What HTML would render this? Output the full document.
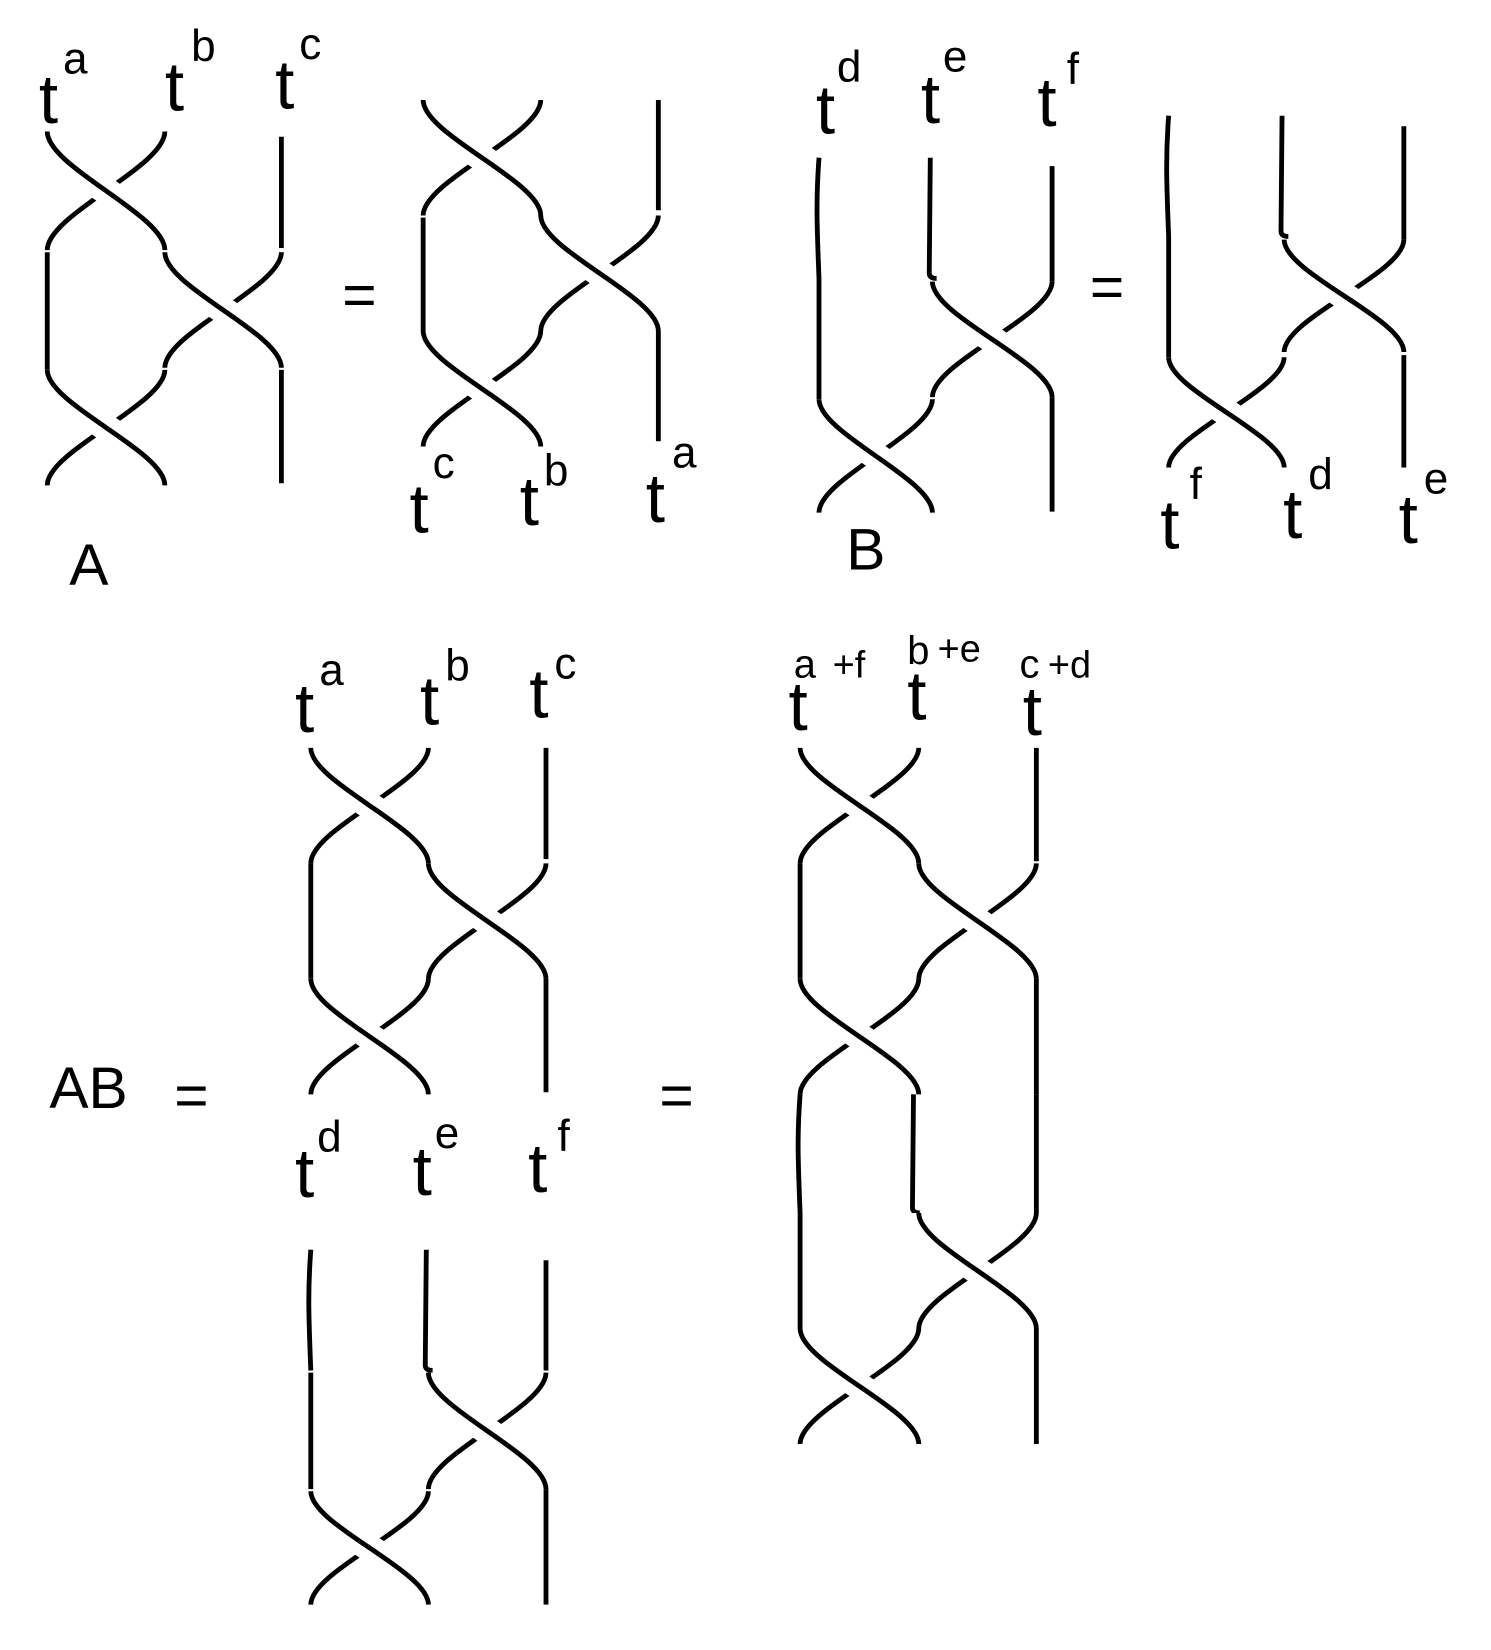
<!DOCTYPE html>
<html><head><meta charset="utf-8"><style>
html,body{margin:0;padding:0;background:#fff}
svg{display:block}
text{font-family:"Liberation Sans",Arial,sans-serif;fill:#000}
</style></head><body>
<svg id="s" width="1491" height="1650" viewBox="0 0 1420 1571" xmlns="http://www.w3.org/2000/svg">
<g id="g" fill="none" stroke-linecap="butt"></g>
<g font-size="66">
<text x="37" y="117">t</text><text x="60" y="70" font-size="42">a</text>
<text x="157" y="105">t</text><text x="182" y="58" font-size="42">b</text>
<text x="262" y="103">t</text><text x="285" y="56" font-size="42">c</text>
<text x="390" y="507">t</text><text x="412" y="455" font-size="42">c</text>
<text x="495" y="500">t</text><text x="518" y="462" font-size="42">b</text>
<text x="615" y="497">t</text><text x="640" y="445" font-size="42">a</text>
<text x="66" y="557" font-size="56">A</text>
<text x="777" y="127">t</text><text x="797" y="78" font-size="42">d</text>
<text x="877" y="117">t</text><text x="898" y="68" font-size="42">e</text>
<text x="988" y="120">t</text><text x="1016" y="80" font-size="42">f</text>
<text x="806" y="542" font-size="56">B</text>
<text x="1105" y="522">t</text><text x="1133" y="475" font-size="42">f</text>
<text x="1222" y="512">t</text><text x="1246" y="466" font-size="42">d</text>
<text x="1332" y="517">t</text><text x="1356" y="470" font-size="42">e</text>
<text x="326" y="300" font-size="56">=</text>
<text x="1038" y="292" font-size="56">=</text>
<text x="281" y="697">t</text><text x="304" y="652" font-size="42">a</text>
<text x="400" y="690">t</text><text x="424" y="648" font-size="42">b</text>
<text x="504" y="683">t</text><text x="528" y="646" font-size="42">c</text>
<text x="281" y="1140">t</text><text x="302" y="1097" font-size="42">d</text>
<text x="393" y="1138">t</text><text x="414" y="1093" font-size="42">e</text>
<text x="503" y="1135">t</text><text x="531" y="1096" font-size="42">f</text>
<text x="47" y="1055" font-size="56">AB</text>
<text x="166" y="1062" font-size="56">=</text>
<text x="628" y="1062" font-size="56">=</text>
<text x="751" y="695">t</text><text x="756" y="645" font-size="38">a</text><text x="793" y="645" font-size="36">+f</text>
<text x="864" y="685">t</text><text x="864" y="632" font-size="38">b</text><text x="893" y="630" font-size="36">+e</text>
<text x="974" y="700">t</text><text x="971" y="645" font-size="38">c</text><text x="998" y="645" font-size="36">+d</text>
</g>
</svg>
<script>
var g=document.getElementById('g'),NS='http://www.w3.org/2000/svg';
function p(d,w,c){var e=document.createElementNS(NS,'path');e.setAttribute('d',d);e.setAttribute('stroke',c);e.setAttribute('stroke-width',w);g.appendChild(e);}
function cv(x0,y0,x1,y1){var h=y1-y0;return 'M'+x0+' '+y0+' C'+x0+' '+(y0+0.3*h)+' '+x1+' '+(y1-0.3*h)+' '+x1+' '+y1;}
function X(xl,xr,y0,y1){p(cv(xr,y0,xl,y1),4.6,'#000');p(cv(xl,y0,xr,y1),26,'#fff');p(cv(xl,y0,xr,y1),4.6,'#000');}
function V(x,y0,y1){p('M'+x+' '+y0+' L'+x+' '+y1,4.6,'#000');}
function W(x,y0,y1){p('M'+x+' '+y0+' C'+(x-3)+' '+(y0+40)+' '+(x-2)+' '+(y1-50)+' '+x+' '+y1,4.6,'#000');}
function H(x,y0,y1){p('M'+x+' '+y0+' L'+(x-1)+' '+(y1-5)+' Q'+(x-1)+' '+y1+' '+(x+6)+' '+y1,4.6,'#000');}
X(45,157,125,238);V(268,130,236);
X(157,268,240,350);V(45,240,352);
X(45,157,352,462);V(268,352,460);
X(403,515,95,205);V(627,95,200);
X(515,627,205,315);V(403,207,315);
X(403,515,315,425);V(627,315,420);
W(780,150,265);H(886,150,265);V(1002,158,268);
X(888,1002,268,378);V(780,265,380);
X(780,888,380,488);V(1002,378,487);
W(1113,110,225);H(1221,110,225);V(1337,120,228);
X(1223,1337,228,335);V(1113,225,340);
X(1113,1223,340,445);V(1337,338,445);
X(296,408,712,822);V(520,712,818);
X(408,520,822,932);V(296,822,932);
X(296,408,932,1042);V(520,932,1040);
W(296,1190,1305);H(406,1190,1305);V(520,1200,1305);
X(408,520,1307,1418);V(296,1307,1418);
X(296,408,1420,1528);V(520,1418,1528);
X(762,875,712,822);V(987,712,820);
X(875,987,822,932);V(762,822,932);
X(762,875,932,1042);V(987,932,1042);
W(762,1042,1155);H(870,1042,1155);V(987,1042,1155);
X(875,987,1155,1265);V(762,1155,1265);
X(762,875,1265,1375);V(987,1265,1375);
</script>
</body></html>
